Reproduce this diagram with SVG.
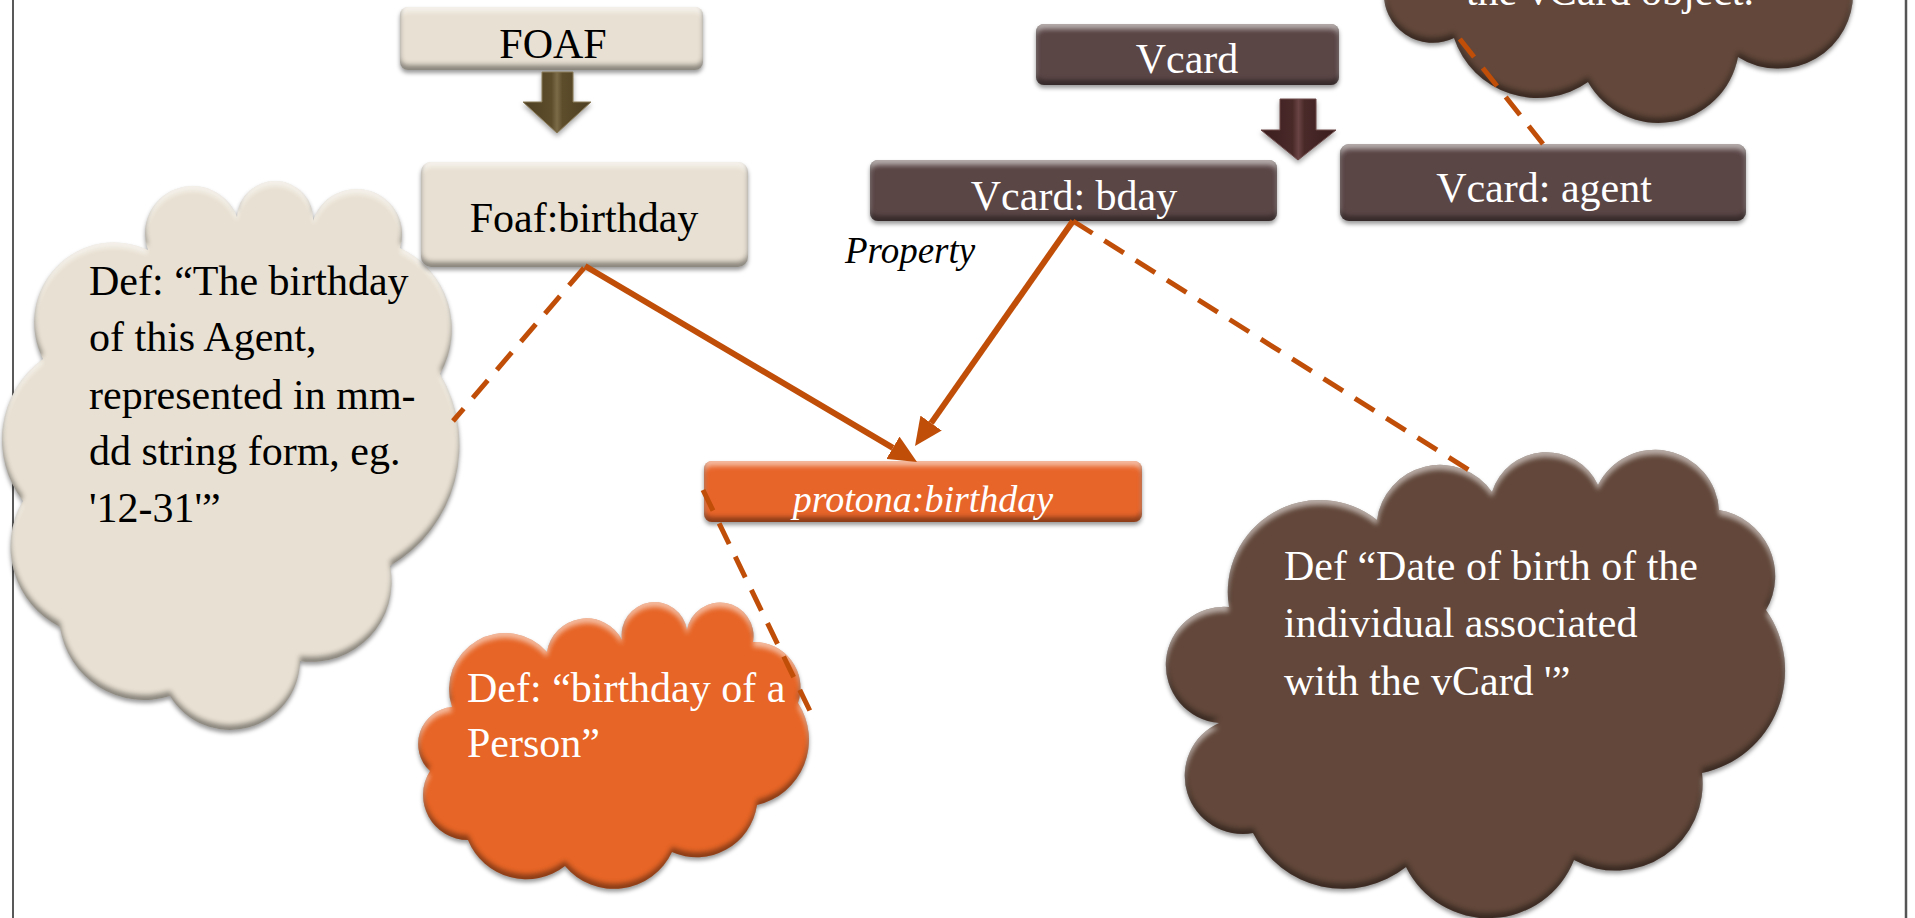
<svg xmlns="http://www.w3.org/2000/svg" width="1915" height="918" viewBox="0 0 1915 918">
<defs>
  <filter id="bev" x="-5%" y="-8%" width="110%" height="120%" color-interpolation-filters="sRGB">
    <feGaussianBlur in="SourceAlpha" stdDeviation="2.5" result="b"/>
    <feOffset in="b" dx="0" dy="5" result="bd"/>
    <feOffset in="b" dx="0" dy="-5" result="bu"/>
    <feComposite in="SourceAlpha" in2="bd" operator="out" result="tb"/>
    <feComposite in="SourceAlpha" in2="bu" operator="out" result="bb"/>
    <feFlood flood-color="#ffffff" flood-opacity="0.55" result="wf"/>
    <feComposite in="wf" in2="tb" operator="in" result="hl"/>
    <feFlood flood-color="#000000" flood-opacity="0.4" result="kf"/>
    <feComposite in="kf" in2="bb" operator="in" result="dk"/>
    <feOffset in="SourceAlpha" dy="3" result="so"/>
    <feGaussianBlur in="so" stdDeviation="2" result="sb"/>
    <feFlood flood-color="#000000" flood-opacity="0.4" result="sf"/>
    <feComposite in="sf" in2="sb" operator="in" result="sh"/>
    <feMerge>
      <feMergeNode in="sh"/>
      <feMergeNode in="SourceGraphic"/>
      <feMergeNode in="hl"/>
      <feMergeNode in="dk"/>
    </feMerge>
  </filter>
  <filter id="shd" x="-20%" y="-20%" width="140%" height="150%" color-interpolation-filters="sRGB">
    <feOffset in="SourceAlpha" dy="3" result="so"/>
    <feGaussianBlur in="so" stdDeviation="2.5" result="sb"/>
    <feFlood flood-color="#000000" flood-opacity="0.35"/>
    <feComposite in2="sb" operator="in" result="sh"/>
    <feMerge><feMergeNode in="sh"/><feMergeNode in="SourceGraphic"/></feMerge>
  </filter>
  <linearGradient id="olive" x1="0" y1="0" x2="1" y2="0">
    <stop offset="0" stop-color="#4c3e22"/>
    <stop offset="0.42" stop-color="#5d4d2b"/>
    <stop offset="0.5" stop-color="#7b6b47"/>
    <stop offset="0.58" stop-color="#5d4d2b"/>
    <stop offset="1" stop-color="#4c3e22"/>
  </linearGradient>
  <linearGradient id="maroon" x1="0" y1="0" x2="1" y2="0">
    <stop offset="0" stop-color="#3a1d1d"/>
    <stop offset="0.42" stop-color="#4a2929"/>
    <stop offset="0.5" stop-color="#6a4444"/>
    <stop offset="0.58" stop-color="#4a2929"/>
    <stop offset="1" stop-color="#3a1d1d"/>
  </linearGradient>
  <marker id="ah" markerUnits="userSpaceOnUse" markerWidth="28" markerHeight="26" viewBox="0 0 28 26" refX="0" refY="13" orient="auto">
    <path d="M0,0 L28,13 L0,26 Z" fill="#C04E08"/>
  </marker>
</defs>
<style>
  .t { font-family: "Liberation Serif", "Times New Roman", serif; font-size: 42px; }
  .it { font-style: italic; }
  .k { fill: #000000; }
  .w { fill: #ffffff; }
  .mid { text-anchor: middle; }
  .beige { fill: #E8E0D2; }
  .maroonbox { fill: #5B4646; }
  .orange { fill: #E8652A; }
  .orangecloud { fill: #E76526; }
  .browncloud { fill: #62473A; }
  .conn { stroke: #C04E08; stroke-width: 6; fill: none; }
  .dash { stroke: #C04E08; stroke-width: 5; fill: none; stroke-dasharray: 23 14; }
</style>

<g id="frame">
  <line x1="13" y1="0" x2="13" y2="918" stroke="#222222" stroke-width="1.5"/>
  <line x1="1906" y1="0" x2="1906" y2="918" stroke="#555555" stroke-width="2.5"/>
</g>

<g id="cloud-vcard-agent">
  <path class="browncloud" filter="url(#bev)" d="M1384,-60 L1860,-60 L1853,-10 A75,75 0 0 1 1738,57 A81,81 0 0 1 1588,82 A88,88 0 0 1 1454,38 A49,49 0 0 1 1384,-10 Z"/>
  <text class="t w mid" x="1610" y="5">the vCard object.</text>
</g>

<g id="cloud-foaf">
  <path class="beige" filter="url(#bev)" d="M43,359 A80,80 0 0 1 148,250 A1,1 0 0 1 237,217 A1,1 0 0 1 313,221 A1,1 0 0 1 400,248 A90,90 0 0 1 440,374 A140,140 0 0 1 390,566 A80,80 0 0 1 300,661 A70,70 0 0 1 170,696 A85,85 0 0 1 60,627 A90,90 0 0 1 23,501 A100,100 0 0 1 43,359 Z"/>
  <text class="t k" x="89" y="295">Def: “The birthday</text>
  <text class="t k" x="89" y="351">of this Agent,</text>
  <text class="t k" x="89" y="409">represented in mm-</text>
  <text class="t k" x="89" y="465">dd string form, eg.</text>
  <text class="t k" x="89" y="522">'12-31'”</text>
</g>

<g id="cloud-protona">
  <path class="orangecloud" filter="url(#bev)" d="M547,652 A40,40 0 0 1 622,640 A1,1 0 0 1 687,630 A1,1 0 0 1 753,642 A46,46 0 0 1 798,703 A67,67 0 0 1 757,805 A61,61 0 0 1 672,852 A64,64 0 0 1 565,866 A63,63 0 0 1 468,840 A45,45 0 0 1 430,771 A37,37 0 0 1 452,707 A56,56 0 0 1 547,652 Z"/>
  <text class="t w" x="467" y="702">Def: “birthday of a</text>
  <text class="t w" x="467" y="757">Person”</text>
</g>

<g id="cloud-vcard-bday">
  <path class="browncloud" filter="url(#bev)" d="M1229,607 A92,92 0 0 1 1377,520 A63.5,63.5 0 0 1 1492,492 A57,57 0 0 1 1598,485 A64,64 0 0 1 1719,510 A67,67 0 0 1 1766,610 A105,105 0 0 1 1702,773 A87,87 0 0 1 1574,860 A92,92 0 0 1 1406,867 A101,101 0 0 1 1253,833 A58,58 0 0 1 1219,723 A58,58 0 0 1 1229,607 Z"/>
  <text class="t w" x="1284" y="580">Def “Date of birth of the</text>
  <text class="t w" x="1284" y="637">individual associated</text>
  <text class="t w" x="1284" y="695">with the vCard '”</text>
</g>

<g id="foaf">
  <rect class="beige" filter="url(#bev)" x="400" y="7" width="303" height="63" rx="8"/>
  <text class="t k mid" x="553" y="58">FOAF</text>
</g>

<g id="foaf-arrow">
  <path fill="url(#olive)" stroke="#8a7a56" stroke-width="1" filter="url(#shd)" d="M542,72 L573,72 L573,102 L591,102 L557,133 L523,102 L542,102 Z"/>
</g>

<g id="foaf-birthday">
  <rect class="beige" filter="url(#bev)" x="421" y="162" width="327" height="105" rx="10"/>
  <text class="t k mid" x="584" y="232">Foaf:birthday</text>
</g>

<g id="vcard">
  <rect class="maroonbox" filter="url(#bev)" x="1036" y="24" width="303" height="61" rx="8"/>
  <text class="t w mid" x="1187" y="73">Vcard</text>
</g>

<g id="vcard-arrow">
  <path fill="url(#maroon)" stroke="#6e4a4a" stroke-width="1" filter="url(#shd)" d="M1280,99 L1316,99 L1316,130 L1336,130 L1298,160 L1261,130 L1280,130 Z"/>
</g>

<g id="vcard-bday">
  <rect class="maroonbox" filter="url(#bev)" x="870" y="160" width="407" height="61" rx="8"/>
  <text class="t w mid" x="1074" y="210">Vcard: bday</text>
</g>

<g id="vcard-agent">
  <rect class="maroonbox" filter="url(#bev)" x="1340" y="144" width="406" height="77" rx="9"/>
  <text class="t w mid" x="1544" y="202">Vcard: agent</text>
</g>

<g id="property-label">
  <text class="t it k" x="845" y="263" style="font-size:37px">Property</text>
</g>

<g id="protona-birthday">
  <rect class="orange" filter="url(#bev)" x="704" y="461" width="438" height="61" rx="8"/>
  <text class="t it w mid" x="923" y="512" style="font-size:38px">protona:birthday</text>
</g>

<g id="connectors">
  <line class="conn" x1="585" y1="266" x2="892.9" y2="447.8" marker-end="url(#ah)"/>
  <line class="conn" x1="1073" y1="221" x2="931.1" y2="423.1" marker-end="url(#ah)"/>
  <line class="dash" x1="584" y1="268" x2="453" y2="421"/>
  <line class="dash" x1="1073" y1="221" x2="1472" y2="472"/>
  <line class="dash" x1="703" y1="490" x2="810" y2="711"/>
  <line class="dash" x1="1543" y1="144" x2="1459" y2="38"/>
</g>
</svg>
